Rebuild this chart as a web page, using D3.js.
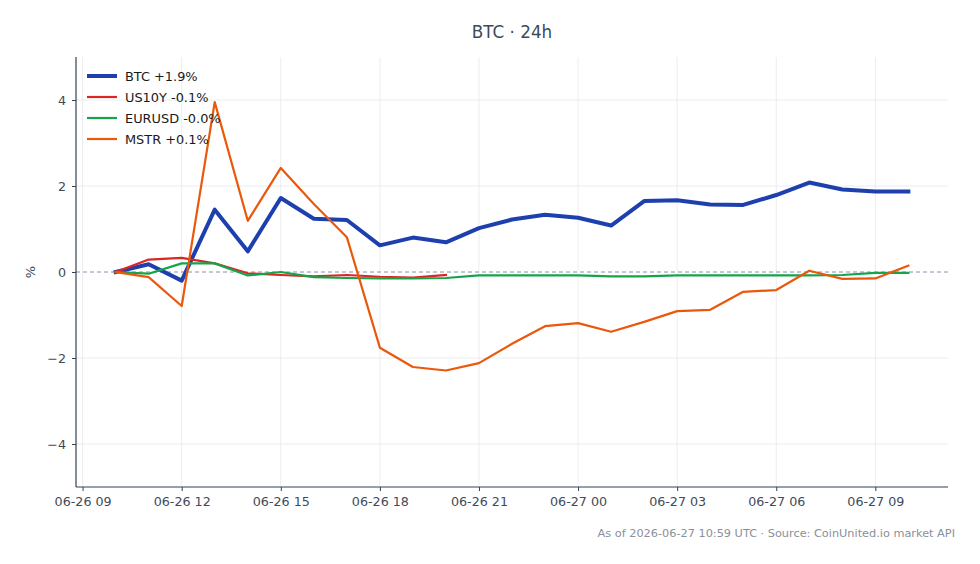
<!DOCTYPE html>
<html>
<head>
<meta charset="utf-8">
<script src="https://cdn.jsdelivr.net/npm/d3@7"></script>
<style>
  body { margin: 0; background: #fff; }
  svg { display: block; font-family: "DejaVu Sans", sans-serif; }
</style>
</head>
<body>
<div id="chart"></div>
<script>
// hourly timestamps (UTC)
const times = [
  "2026-06-26T10:00Z", "2026-06-26T11:00Z", "2026-06-26T12:00Z", "2026-06-26T13:00Z",
  "2026-06-26T14:00Z", "2026-06-26T15:00Z", "2026-06-26T16:00Z", "2026-06-26T17:00Z",
  "2026-06-26T18:00Z", "2026-06-26T19:00Z", "2026-06-26T20:00Z", "2026-06-26T21:00Z",
  "2026-06-26T22:00Z", "2026-06-26T23:00Z", "2026-06-27T00:00Z", "2026-06-27T01:00Z",
  "2026-06-27T02:00Z", "2026-06-27T03:00Z", "2026-06-27T04:00Z", "2026-06-27T05:00Z",
  "2026-06-27T06:00Z", "2026-06-27T07:00Z", "2026-06-27T08:00Z", "2026-06-27T09:00Z",
  "2026-06-27T10:00Z"
];

const btc = [0, 0.18, -0.2, 1.45, 0.48, 1.72, 1.24, 1.21, 0.62, 0.8, 0.69, 1.02, 1.22,
  1.33, 1.26, 1.08, 1.65, 1.67, 1.57, 1.56, 1.79, 2.08, 1.92, 1.87, 1.87];
const us10y = [0, 0.29, 0.33, 0.2, -0.03, -0.07, -0.1, -0.07, -0.11, -0.13, -0.07];
const eurusd = [0, -0.04, 0.2, 0.2, -0.08, 0, -0.12, -0.14, -0.15, -0.15, -0.14, -0.08, -0.08,
  -0.08, -0.08, -0.1, -0.1, -0.08, -0.08, -0.08, -0.08, -0.08, -0.07, -0.02, -0.02];
const mstr = [0, -0.12, -0.79, 3.95, 1.19, 2.42, 1.58, 0.81, -1.76, -2.21, -2.29, -2.12, -1.67,
  -1.26, -1.19, -1.39, -1.16, -0.91, -0.88, -0.46, -0.42, 0.03, -0.16, -0.15, 0.15];

const seriesNames = ["BTC +1.9%", "US10Y -0.1%", "EURUSD -0.0%", "MSTR +0.1%"];
const seriesColors = ["#1e40af", "#dc2626", "#16a34a", "#ea580c"];
const seriesWidths = [4, 2.2, 2.2, 2.2];
const yTicks = [-4, -2, 0, 2, 4];

const W = 980, H = 564;
const margin = { top: 57, right: 32, bottom: 77, left: 76 };
const width = W - margin.left - margin.right,
      height = H - margin.top - margin.bottom;

const dates = times.map(t => new Date(t));
const series = [btc, us10y, eurusd, mstr].map((vals, i) => ({
  name: seriesNames[i],
  color: seriesColors[i],
  width: seriesWidths[i],
  points: vals.map((v, j) => ({ t: dates[j], v }))
}));

const svg = d3.select("#chart").append("svg")
  .attr("width", W)
  .attr("height", H);

const g = svg.append("g")
  .attr("transform", `translate(${margin.left}, ${margin.top})`);

// X scale with 5% padding on each side
const pad = (dates[dates.length - 1] - dates[0]) * 0.05;
const x = d3.scaleUtc()
  .domain([new Date(+dates[0] - pad), new Date(+dates[dates.length - 1] + pad)])
  .range([0, width]);

const y = d3.scaleLinear()
  .domain([-5, 5])
  .range([height, 0]);

const xTicks = x.ticks(d3.utcHour.every(3));

// grid
g.append("g")
  .selectAll("line")
  .data(xTicks)
  .join("line")
  .attr("x1", d => x(d)).attr("x2", d => x(d))
  .attr("y1", 0).attr("y2", height)
  .attr("stroke", "#e5e7eb")
  .attr("stroke-width", 0.8);

g.append("g")
  .selectAll("line")
  .data(yTicks.filter(d => d !== 0))
  .join("line")
  .attr("x1", 0).attr("x2", width)
  .attr("y1", d => y(d)).attr("y2", d => y(d))
  .attr("stroke", "#e5e7eb")
  .attr("stroke-width", 0.8);

// zero reference
g.append("line")
  .attr("x1", 0).attr("x2", width)
  .attr("y1", y(0)).attr("y2", y(0))
  .attr("stroke", "#8590ab")
  .attr("stroke-width", 1)
  .attr("stroke-dasharray", "4,3");

// lines
const line = d3.line()
  .x(d => x(d.t))
  .y(d => y(d.v));

g.append("g")
  .selectAll("path")
  .data(series)
  .join("path")
  .attr("d", d => line(d.points))
  .attr("fill", "none")
  .attr("stroke", d => d.color)
  .attr("stroke-width", d => d.width)
  .attr("stroke-linejoin", "round")
  .attr("stroke-linecap", "square");

// axes
const xAxis = g.append("g")
  .attr("transform", `translate(0, ${height})`)
  .call(d3.axisBottom(x).tickValues(xTicks).tickFormat(d3.utcFormat("%m-%d %H")).tickSize(4).tickPadding(6))
  .call(a => a.select(".domain").attr("stroke", "#334155").attr("stroke-width", 1.2).attr("d", `M0,0H${width}`));

const yAxis = g.append("g")
  .call(d3.axisLeft(y).tickValues(yTicks).tickFormat(d => d < 0 ? "\u2212" + Math.abs(d) : d).tickSize(4).tickPadding(6))
  .call(a => a.select(".domain").attr("stroke", "#334155").attr("stroke-width", 1.2).attr("d", `M0,0V${height}`));

[xAxis, yAxis].forEach(a => {
  a.selectAll(".tick line").attr("stroke", "#334155");
  a.selectAll(".tick text")
    .attr("fill", "#3f4a5a")
    .style("font-size", "12.7px")
    .style("font-family", "DejaVu Sans, sans-serif");
});

// y label
svg.append("text")
  .attr("transform", `translate(35, ${margin.top + y(0)}) rotate(-90)`)
  .attr("text-anchor", "middle")
  .attr("fill", "#3f4a5a")
  .style("font-size", "13px")
  .text("%");

// title
svg.append("text")
  .attr("x", margin.left + width / 2)
  .attr("y", 38)
  .attr("text-anchor", "middle")
  .attr("fill", "#3d4a5c")
  .style("font-size", "16.8px")
  .text("BTC \u00b7 24h");

// legend
const legend = g.append("g")
  .attr("transform", "translate(11, 19)");

const rows = legend.selectAll("g")
  .data(series)
  .join("g")
  .attr("transform", (d, i) => `translate(0, ${i * 21})`);

rows.append("line")
  .attr("x1", 0).attr("x2", 30)
  .attr("stroke", d => d.color)
  .attr("stroke-width", d => d.width);

rows.append("text")
  .attr("x", 38)
  .attr("dy", "0.35em")
  .attr("fill", "#1a1a1a")
  .style("font-size", "12.9px")
  .text(d => d.name);

// footer
svg.append("text")
  .attr("x", 955)
  .attr("y", 537)
  .attr("text-anchor", "end")
  .attr("fill", "#8a8f99")
  .style("font-size", "11.3px")
  .text("As of 2026-06-27 10:59 UTC \u00b7 Source: CoinUnited.io market API");
</script>
</body>
</html>
